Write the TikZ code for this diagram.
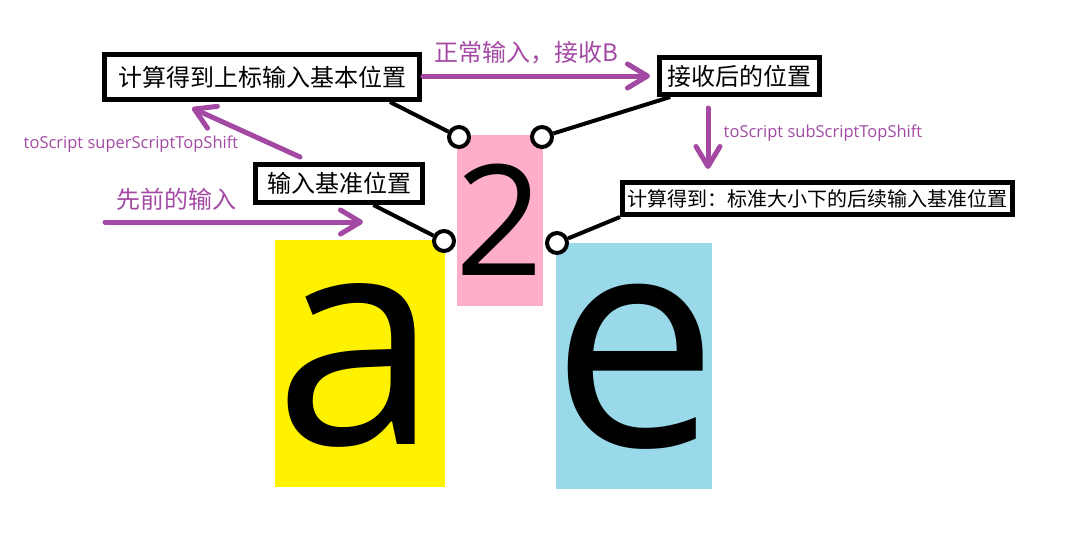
\documentclass[tikz,border=0pt]{standalone}
\usepackage{fontspec}
\setmainfont{Open Sans}
\newfontfamily\cjk{Noto Sans CJK SC}
\usetikzlibrary{arrows.meta,calc}
\definecolor{ppurple}{HTML}{A349A4}
\definecolor{pyellow}{HTML}{FFF200}
\definecolor{ppink}{HTML}{FFAEC9}
\definecolor{pblue}{HTML}{99D9EA}
\tikzset{
  lblbox/.style={draw=black, line width=5pt, fill=white, inner sep=0pt, font=\cjk\fontsize{24}{24}\selectfont},
  pin/.style={circle, draw=black, line width=4pt, fill=white, minimum size=20pt, inner sep=0pt},
  conn/.style={draw=black, line width=4pt},
  parrow/.style={draw=ppurple, line width=5pt, line cap=round, -{Straight Barb[length=20pt,width=24pt,round]}},
  cjklbl/.style={text=ppurple, inner sep=0pt, font=\cjk\fontsize{24}{24}\selectfont},
  latlbl/.style={text=ppurple, inner sep=0pt, font=\fontsize{16.5}{16.5}\selectfont},
  bigletter/.style={anchor=base, inner sep=0pt, text=black},
}
\begin{document}
\begin{tikzpicture}[x=1pt,y=-1pt]
\useasboundingbox (0,0) rectangle (1065,533);
% coloured blocks
\fill[pyellow] (275,240) rectangle (445,487);
\fill[ppink] (457,135) rectangle (543,306);
\fill[pblue] (556,243) rectangle (712,489);
% big letters
\node[bigletter, font=\fontsize{296}{296}\selectfont] (la) at (357,444) {a};
\node[bigletter, font=\fontsize{154}{154}\selectfont] (l2) at (500,275) {2};
\node[bigletter, font=\fontsize{298}{298}\selectfont] (le) at (635,446) {e};
% boxes
\node[lblbox, minimum width=315pt, minimum height=45pt] (box1) at (262,77) {计算得到上标输入基本位置};
\node[lblbox, minimum width=160pt, minimum height=37pt] (box2) at (739.5,76) {接收后的位置};
\node[lblbox, minimum width=167pt, minimum height=38pt] (box3) at (339,183.5) {输入基准位置};
\node[lblbox, minimum width=390pt, minimum height=32pt, font=\cjk\fontsize{20}{20}\selectfont] (box4) at (817.5,198.5) {计算得到：标准大小下的后续输入基准位置};
% pins
\node[pin] (c1) at (459,137) {};
\node[pin] (c2) at (542,137) {};
\node[pin] (c3) at (444,241) {};
\node[pin] (c4) at (557,243) {};
% connectors
\coordinate (b1) at ($(box1.south west)!0.90!(box1.south east)$);
\coordinate (b2) at ($(box2.south west)!0.08!(box2.south east)$);
\coordinate (b3) at ($(box3.south west)!0.70!(box3.south east)$);
\draw[conn] (b1) -- (c1);
\draw[conn] (b2) -- (c2);
\draw[conn] (b3) -- (c3);
\draw[conn] (box4.south west) -- (c4);
% purple arrows
\coordinate (a1s) at (423,76);
\coordinate (a1e) at (650,76);
\draw[parrow] (a1s) -- (a1e);
\coordinate (a2s) at (300,157);
\coordinate (a2e) at (192,108);
\draw[parrow] (a2s) -- (a2e);
\coordinate (a3s) at (105,222);
\coordinate (a3e) at (363,222);
\draw[parrow] (a3s) -- (a3e);
\coordinate (a4s) at (708,108);
\coordinate (a4e) at (708,169);
\draw[parrow] (a4s) -- (a4e);
% labels
\node[cjklbl] (t1) at (526,53) {正常输入，接收B};
\node[cjklbl] (t2) at (176,199) {先前的输入};
\node[latlbl] (t3) at (131,144) {toScript superScriptTopShift};
\node[latlbl] (t4) at (823,133) {toScript subScriptTopShift};
\end{tikzpicture}
\end{document}
